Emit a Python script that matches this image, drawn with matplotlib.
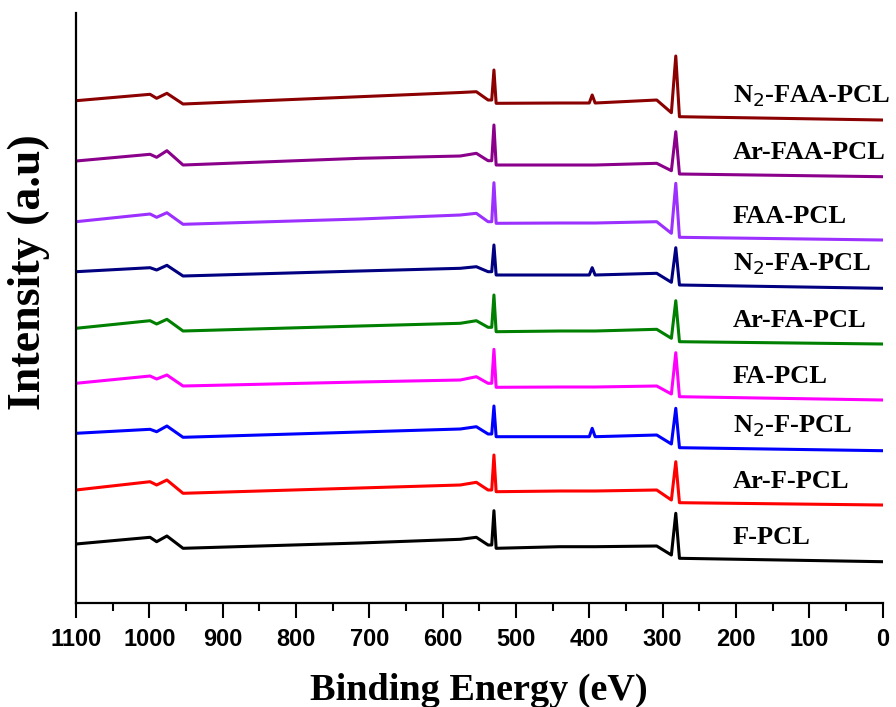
import matplotlib
matplotlib.use("Agg")
import matplotlib.pyplot as plt
from matplotlib.ticker import MultipleLocator

energy = [1100, 999, 990, 976, 954, 713, 576, 554, 538, 533, 530, 527,
          440, 400, 396, 392, 308, 288, 282, 277, 0]

# stacked intensities (a.u.), bottom to top
f_pcl = [59, 65.7, 61.3, 67, 54.7, 60, 63.7, 65.7, 58, 58, 92.3, 54.7,
         56.3, 56.3, 56.3, 56.3, 57, 48, 89.7, 44.7, 41.3]
ar_f_pcl = [113, 121.3, 118, 123, 109.7, 115, 118, 120.7, 113, 113, 148, 111.3,
            112, 112, 112, 112, 113, 103, 141.3, 100.3, 98]
n2_f_pcl = [169.7, 173.7, 171.3, 177, 165.7, 171, 174, 176.3, 169, 169, 197, 166.3,
            166.3, 166.3, 174.7, 166.3, 168, 159, 194.7, 155.3, 152.3]
fa_pcl = [219.7, 227, 224, 228, 217, 221, 223, 226.3, 219.7, 219.7, 253.7, 215.7,
          216, 216, 216, 216, 217, 209, 250.3, 206.3, 203]
ar_fa_pcl = [274.7, 282.3, 279, 283.7, 272, 277, 279.7, 282.3, 275.7, 275.7, 308, 271.3,
             272, 272, 272, 272, 273.7, 264.7, 302.3, 261.3, 259]
n2_fa_pcl = [331.3, 335.3, 333, 337.7, 327, 332, 334.7, 336.3, 331.3, 331.3, 358, 328,
             328, 328, 335.3, 328, 329.7, 320.7, 355.3, 318, 314.7]
faa_pcl = [381.3, 389, 385.7, 390.3, 378.7, 384, 388, 389.7, 381.3, 381.3, 420.3, 379.7,
           380, 380, 380, 380, 381.3, 369.7, 419.7, 365.7, 363]
ar_faa_pcl = [442, 448.7, 445.7, 452.3, 438, 444.7, 447, 449.7, 442.3, 442.3, 478, 438,
              438, 438, 438, 438, 439.7, 432.3, 471.3, 429, 426.3]
n2_faa_pcl = [502.3, 508.7, 504.7, 509.7, 499, 506.3, 510.5, 511.3, 503, 503, 533, 499.7,
              500, 500, 508, 500, 503, 490.3, 547, 486.3, 483]

labels = ["F-PCL", "Ar-F-PCL", "N$_2$-F-PCL", "FA-PCL", "Ar-FA-PCL",
          "N$_2$-FA-PCL", "FAA-PCL", "Ar-FAA-PCL", "N$_2$-FAA-PCL"]
spectra = [f_pcl, ar_f_pcl, n2_f_pcl, fa_pcl, ar_fa_pcl,
           n2_fa_pcl, faa_pcl, ar_faa_pcl, n2_faa_pcl]
colors = ["black", "#ff0000", "#0000ff", "#ff00ff", "#008000",
          "#000080", "#9b30ff", "#8b008b", "#8b0000"]

fig = plt.figure(figsize=(8.96, 7.07), dpi=100)
ax = fig.add_axes([0.0848, 0.1471, 0.9002, 0.8345])

for y, lab, c in zip(spectra, labels, colors):
    ax.plot(energy, y, color=c, lw=2.2, solid_joinstyle="round")
    ax.text(204, y[-1] + 24, lab, color="black", fontsize=19,
            fontweight="bold", family="Liberation Serif", va="center", ha="left")

ax.set_xlim(1100, 0)
ax.set_ylim(0, 590)
ax.xaxis.set_major_locator(MultipleLocator(100))
ax.xaxis.set_minor_locator(MultipleLocator(50))
ax.tick_params(axis="x", which="major", direction="out", length=11, width=1.5,
               labelsize=17, pad=7)
ax.tick_params(axis="x", which="minor", direction="out", length=6, width=1.5)
for t in ax.get_xticklabels():
    t.set_fontweight("bold")
    t.set_family("Liberation Sans")
ax.set_yticks([])
for s in ["top", "right"]:
    ax.spines[s].set_visible(False)
for s in ["left", "bottom"]:
    ax.spines[s].set_linewidth(1.6)

ax.set_xlabel("Binding Energy (eV)", fontsize=27.5, fontweight="bold",
              family="Liberation Serif", labelpad=16)
ax.set_ylabel("Intensity (a.u)", fontsize=33, fontweight="bold",
              family="Liberation Serif")
ax.yaxis.set_label_coords(-0.032, 0.561)

fig.savefig("out.png", dpi=100)
